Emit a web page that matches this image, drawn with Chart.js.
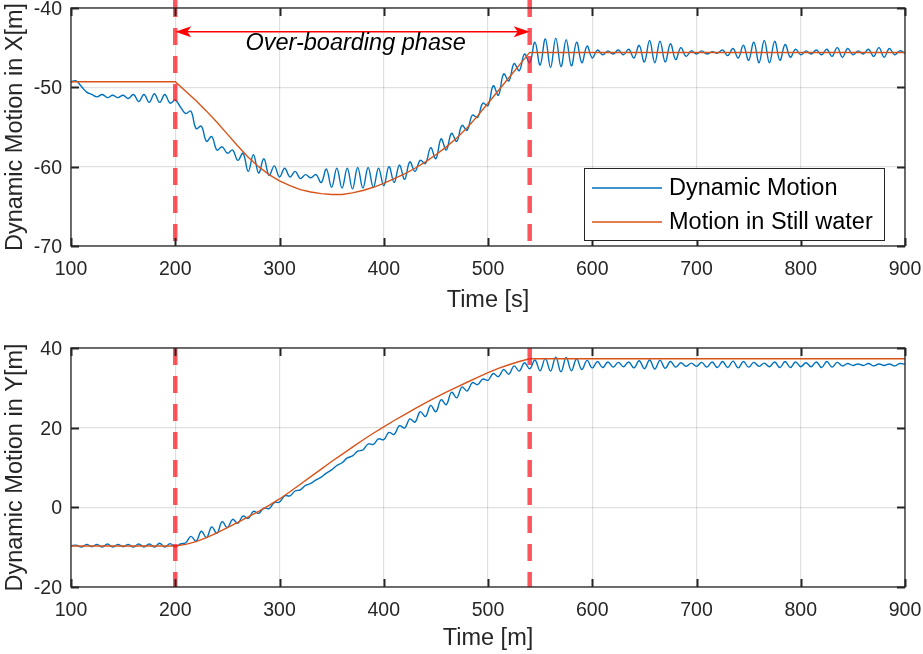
<!DOCTYPE html>
<html>
<head>
<meta charset="utf-8">
<script src="https://cdn.jsdelivr.net/npm/chart.js@4.4.1/dist/chart.umd.min.js"></script>
<style>
  html, body { margin: 0; padding: 0; background: #fff; }
  #wrap { position: relative; width: 923px; height: 654px; }
  canvas { position: absolute; left: 0; }
  #topChart { top: 0; }
  #botChart { top: 323px; }
</style>
</head>
<body>
<div id="wrap">
  <canvas id="topChart" width="923" height="323"></canvas>
  <canvas id="botChart" width="923" height="331"></canvas>
</div>
<script>
// --- DATA ---
// dynamic motion sampled every 5 s from t = 100 s
const T_START = 100;
const T_STEP = 5;

const dynX = [
  -49.3, -49.2, -49.9, -50.6, -50.9, -51.2, -50.9, -51.3, -51.0, -51.3,
  -51.0, -51.4, -50.9, -51.8, -50.9, -51.9, -50.8, -51.9, -50.9, -52.0,
  -51.6, -52.5, -53.3, -53.0, -55.2, -54.9, -56.8, -56.2, -57.9, -57.5,
  -58.3, -57.9, -59.2, -58.3, -60.6, -58.5, -60.8, -59.0, -61.1, -59.9,
  -61.3, -60.2, -61.3, -60.6, -61.5, -61.0, -61.4, -61.0, -62.0, -60.3,
  -62.6, -60.2, -62.7, -60.2, -62.8, -60.1, -62.7, -60.1, -62.6, -60.2,
  -62.4, -60.0, -62.0, -59.8, -61.6, -59.4, -60.6, -59.2, -59.6, -57.6,
  -59.0, -56.5, -57.9, -55.8, -56.8, -54.8, -55.4, -53.5, -53.8, -52.0,
  -52.3, -49.8, -51.0, -48.3, -49.2, -47.0, -47.9, -45.8, -46.9, -44.3,
  -47.2, -43.9, -47.5, -43.8, -47.4, -44.0, -47.3, -44.3, -46.9, -44.8,
  -46.3, -45.3, -45.9, -45.4, -45.8, -45.3, -45.9, -45.2, -46.3, -44.7,
  -46.8, -44.1, -46.9, -44.2, -46.8, -44.5, -46.5, -45.0, -46.1, -45.4,
  -45.8, -45.4, -45.8, -45.5, -45.7, -45.3, -46.0, -45.1, -46.3, -44.7,
  -46.6, -44.3, -46.9, -44.1, -46.9, -44.2, -46.6, -44.6, -46.2, -45.2,
  -45.9, -45.4, -45.8, -45.3, -45.9, -45.2, -46.1, -45.0, -46.2, -45.1,
  -45.9, -45.4, -45.8, -45.2, -46.1, -45.0, -46.2, -45.1, -45.9, -45.4,
  -45.7
];

const dynY = [
  -9.7, -9.5, -10.0, -9.3, -9.9, -9.3, -10.0, -9.2, -10.0, -9.3,
  -9.9, -9.3, -10.0, -9.2, -10.0, -9.2, -10.0, -9.0, -10.0, -9.1,
  -9.9, -9.2, -8.9, -7.3, -8.5, -6.0, -7.6, -4.9, -6.5, -3.6,
  -5.1, -3.0, -4.0, -2.2, -2.8, -1.0, -1.5, -0.2, -0.3, 1.2,
  1.3, 2.9, 2.9, 4.1, 4.4, 5.5, 6.0, 6.9, 7.6, 8.6,
  9.4, 10.5, 11.2, 12.4, 12.9, 14.1, 14.4, 15.9, 15.8, 17.2,
  17.0, 18.8, 18.3, 20.5, 19.9, 22.2, 21.4, 24.0, 22.8, 25.6,
  24.0, 27.0, 25.8, 28.9, 27.5, 30.2, 29.2, 31.3, 30.8, 32.2,
  31.9, 33.6, 32.8, 34.6, 33.4, 35.5, 34.2, 36.3, 34.8, 37.0,
  34.3, 37.4, 34.2, 37.7, 34.0, 37.6, 34.3, 37.3, 34.6, 36.9,
  35.0, 36.6, 35.1, 36.5, 35.2, 36.4, 35.3, 36.5, 35.0, 36.8,
  34.8, 37.0, 34.7, 36.9, 34.9, 36.6, 35.2, 36.3, 35.4, 36.2,
  35.4, 36.4, 35.2, 36.5, 35.1, 36.6, 35.1, 36.7, 35.0, 36.6,
  35.2, 36.4, 35.4, 36.2, 35.3, 36.5, 35.1, 36.6, 35.1, 36.5,
  35.3, 36.3, 35.3, 36.5, 35.1, 36.6, 35.2, 36.4, 35.5, 36.1,
  35.6, 36.0, 35.6, 36.1, 35.5, 36.0, 35.6, 36.0, 35.5, 36.1,
  35.9
];

// still water motion
const stillT = [100, 200, 210, 220, 230, 240, 250, 260, 270, 280, 290, 300, 310, 320, 330, 340, 350, 360,
  370, 380, 390, 400, 410, 420, 430, 440, 450, 460, 470, 480, 490, 500, 510, 520, 530, 540, 900];
const stillX = [-49.3, -49.3, -50.5, -51.7, -53.0, -54.4, -55.9, -57.4, -58.8, -60.0, -61.0, -61.8, -62.4, -62.9, -63.2, -63.4, -63.5, -63.5,
  -63.3, -63.0, -62.6, -62.1, -61.5, -60.9, -60.2, -59.4, -58.5, -57.5, -56.4, -55.1, -53.6, -52.0, -50.4, -48.8, -47.2, -45.6, -45.6];
const stillY = [-9.7, -9.7, -9.3, -8.6, -7.6, -6.4, -5.1, -3.8, -2.4, -1.0, 0.5, 2.1, 3.9, 5.8, 7.7, 9.6, 11.5, 13.3,
  15.1, 16.9, 18.6, 20.2, 21.8, 23.3, 24.8, 26.2, 27.6, 28.9, 30.2, 31.4, 32.6, 33.8, 34.9, 35.8, 36.6, 37.3, 37.3];

// phase markers (s)
const phaseStart = 200;
const phaseEnd = 540;

const xTicks = [100, 200, 300, 400, 500, 600, 700, 800, 900];
const topYTicks = [-70, -60, -50, -40];
const botYTicks = [-20, 0, 20, 40];

// --- STYLE ---
const TEXT = '#262626';
const GRID = 'rgba(0,0,0,0.12)';
const BLUE = '#0072BD';
const ORANGE = '#D95319';
const MARK = 'rgba(255,20,30,0.72)';
const FONT = '"Liberation Sans", Arial, Helvetica, sans-serif';

Chart.defaults.font.family = FONT;
Chart.defaults.color = TEXT;

function series(ys) {
  return ys.map((v, i) => ({ x: T_START + i * T_STEP, y: v }));
}
function pairs(xs, ys) {
  return xs.map((x, i) => ({ x: x, y: ys[i] }));
}

// box with inward ticks (matlab style)
const framePlugin = {
  id: 'frame',
  afterDatasetsDraw(chart) {
    const { ctx, chartArea: a, scales: { x, y } } = chart;
    ctx.save();
    ctx.strokeStyle = TEXT;
    ctx.lineWidth = 1.3;
    ctx.strokeRect(a.left, a.top, a.right - a.left, a.bottom - a.top);
    const len = 8;
    ctx.beginPath();
    x.ticks.forEach(t => {
      const px = Math.round(x.getPixelForValue(t.value)) + 0.5;
      ctx.moveTo(px, a.bottom); ctx.lineTo(px, a.bottom - len);
      ctx.moveTo(px, a.top); ctx.lineTo(px, a.top + len);
    });
    y.ticks.forEach(t => {
      const py = Math.round(y.getPixelForValue(t.value)) + 0.5;
      ctx.moveTo(a.left, py); ctx.lineTo(a.left + len, py);
      ctx.moveTo(a.right, py); ctx.lineTo(a.right - len, py);
    });
    ctx.lineWidth = 2;
    ctx.stroke();
    ctx.restore();
  }
};

// legend box in the lower right corner
const boxLegend = {
  id: 'boxLegend',
  afterDraw(chart, args, opts) {
    if (!opts.show) return;
    const { ctx, chartArea: a } = chart;
    const items = chart.data.datasets.filter(d => d.inLegend);
    const w = 300, rowH = 34, h = 72;
    const right = a.right - 21, bottom = a.bottom - 6;
    const left = right - w, top = bottom - h;
    ctx.save();
    ctx.fillStyle = '#fff';
    ctx.fillRect(left, top, w, h);
    ctx.strokeStyle = TEXT;
    ctx.lineWidth = 1;
    ctx.strokeRect(left + 0.5, top + 0.5, w, h);
    ctx.font = '23.5px ' + FONT;
    ctx.textBaseline = 'middle';
    ctx.textAlign = 'left';
    items.forEach((d, i) => {
      const yy = top + 20 + i * rowH;
      ctx.strokeStyle = d.borderColor;
      ctx.lineWidth = 1.5;
      ctx.beginPath();
      ctx.moveTo(left + 8, yy); ctx.lineTo(left + 78, yy);
      ctx.stroke();
      ctx.fillStyle = '#000';
      ctx.fillText(d.label, left + 85, yy + 1);
    });
    ctx.restore();
  }
};

// double arrow + label over the phase
const phaseArrow = {
  id: 'phaseArrow',
  afterDraw(chart, args, opts) {
    if (!opts.show) return;
    const { ctx, scales: { x, y } } = chart;
    const x1 = x.getPixelForValue(opts.from), x2 = x.getPixelForValue(opts.to);
    const yy = y.getPixelForValue(opts.at);
    ctx.save();
    ctx.strokeStyle = '#ff0000';
    ctx.fillStyle = '#ff0000';
    ctx.lineWidth = 1.5;
    ctx.beginPath();
    ctx.moveTo(x1 + 10, yy); ctx.lineTo(x2 - 10, yy);
    ctx.stroke();
    [[x1, 1], [x2, -1]].forEach(([px, dir]) => {
      ctx.beginPath();
      ctx.moveTo(px, yy);
      ctx.lineTo(px + dir * 16, yy - 5.5);
      ctx.lineTo(px + dir * 12, yy);
      ctx.lineTo(px + dir * 16, yy + 5.5);
      ctx.closePath();
      ctx.fill();
    });
    ctx.fillStyle = '#000';
    ctx.font = 'italic 23.5px ' + FONT;
    ctx.textAlign = 'center';
    ctx.textBaseline = 'middle';
    ctx.fillText(opts.text, x.getPixelForValue(opts.textX), y.getPixelForValue(opts.textY));
    ctx.restore();
  }
};

function makeChart(id, cfg) {
  const canvas = document.getElementById(id);
  const H = canvas.height;
  const markLine = (t) => ({
    label: 'marker',
    data: [{ x: t, y: cfg.markTop }, { x: t, y: cfg.yMin }],
    borderColor: MARK,
    borderWidth: 4.5,
    borderDash: [17, 11],
    pointRadius: 0,
    order: 0,
    clip: { left: 0, top: cfg.markClip, right: 0, bottom: 0 }
  });
  return new Chart(canvas, {
    type: 'line',
    data: {
      datasets: [
        { label: 'Dynamic Motion', data: series(cfg.dyn), borderColor: BLUE, borderWidth: 1.4,
          pointRadius: 0, tension: 0.4, order: 2, inLegend: true },
        { label: 'Motion in Still water', data: pairs(stillT, cfg.still), borderColor: ORANGE, borderWidth: 1.4,
          pointRadius: 0, tension: 0, order: 1, inLegend: true },
        markLine(phaseStart),
        markLine(phaseEnd)
      ]
    },
    options: {
      responsive: false,
      animation: false,
      devicePixelRatio: 1,
      layout: { padding: { top: cfg.areaTop, right: 18, bottom: 0, left: 0 } },
      plugins: {
        legend: { display: false },
        tooltip: { enabled: false },
        boxLegend: { show: cfg.legend },
        phaseArrow: cfg.arrow || { show: false }
      },
      scales: {
        x: {
          type: 'linear', min: 100, max: 900,
          afterBuildTicks: s => { s.ticks = xTicks.map(v => ({ value: v })); },
          ticks: { font: { size: 19.5 }, color: TEXT, padding: 12, maxRotation: 0, autoSkip: false },
          grid: { color: GRID, lineWidth: 1.2, drawTicks: false },
          border: { display: false },
          title: { display: true, text: cfg.xTitle, font: { size: 23.5 }, color: TEXT,
                   padding: { top: 0, bottom: cfg.xTitlePad } },
          afterFit: s => { s.height = H - cfg.areaBottom; s.paddingLeft = 0; s.paddingRight = 0; }
        },
        y: {
          min: cfg.yMin, max: cfg.yMax,
          afterBuildTicks: s => { s.ticks = cfg.yTicks.map(v => ({ value: v })); },
          ticks: { font: { size: 19.5 }, color: TEXT, padding: 9, labelOffset: 1.5 },
          grid: { color: GRID, lineWidth: 1.2, drawTicks: false },
          border: { display: false },
          title: { display: true, text: cfg.yTitle, font: { size: 23.5 }, color: TEXT,
                   padding: { top: 1, bottom: 0 } },
          afterFit: s => { s.width = 71; s.paddingTop = 0; s.paddingBottom = 0; }
        }
      }
    },
    plugins: [framePlugin, phaseArrow, boxLegend]
  });
}

makeChart('topChart', {
  dyn: dynX, still: stillX,
  yMin: -70, yMax: -40, yTicks: topYTicks, markTop: -39, markClip: 8,
  areaTop: 8, areaBottom: 246, xTitlePad: 8,
  xTitle: 'Time [s]', yTitle: 'Dynamic Motion in X[m]',
  legend: true,
  arrow: { show: true, from: phaseStart, to: phaseEnd, at: -43.0,
           text: 'Over-boarding phase', textX: 373, textY: -44.5 }
});

makeChart('botChart', {
  dyn: dynY, still: stillY,
  yMin: -20, yMax: 40, yTicks: botYTicks, markTop: 40, markClip: 0,
  areaTop: 25, areaBottom: 264, xTitlePad: 1,
  xTitle: 'Time [m]', yTitle: 'Dynamic Motion in Y[m]',
  legend: false
});
</script>
</body>
</html>
